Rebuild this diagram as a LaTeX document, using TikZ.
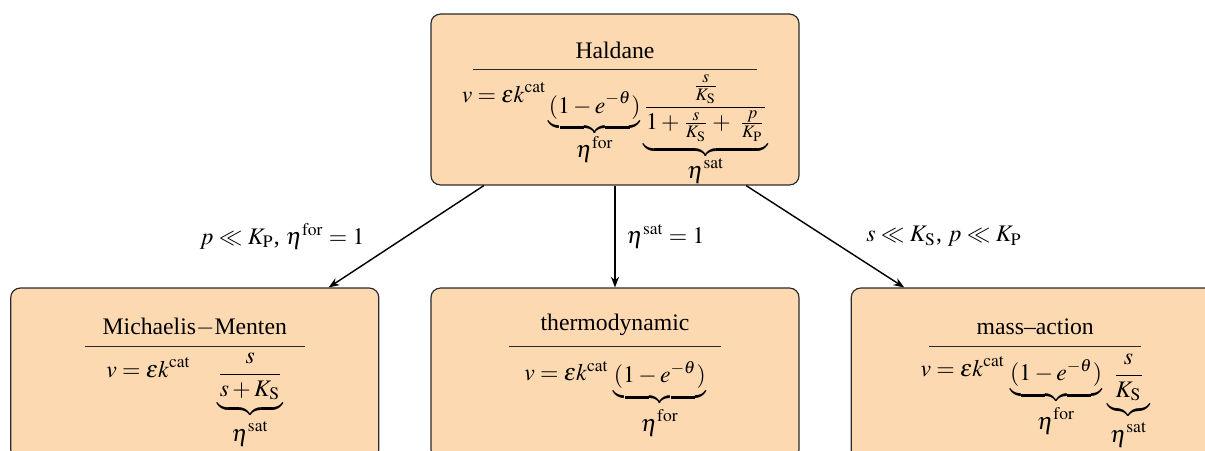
\documentclass[tikz,border=0pt]{standalone}
\usepackage{mathptmx}
\usepackage[no-math]{fontspec}
\setmainfont{Liberation Serif}
\usetikzlibrary{arrows.meta,positioning}
\definecolor{cardfill}{RGB}{253,217,177}
\definecolor{cardline}{HTML}{2B2B2B}
\newcommand{\ratelhs}[1]{\raisebox{#1}{$\displaystyle v=\varepsilon k^{\mathrm{cat}}$}}
\newcommand{\bracelabel}[2][0pt]{\raisebox{#1}[0pt][0pt]{$\displaystyle #2$}}
\newcommand{\bracestack}[2]{\vtop{\offinterlineskip\ialign{\hfil##\hfil\cr
  $\displaystyle\underbrace{#1}$\cr$\displaystyle #2$\cr}}}

\begin{document}
\begin{tikzpicture}[
      x=0.4219pt,y=-0.4219pt,
      card/.style={rounded corners=4pt,draw=cardline,line width=0.5pt,fill=cardfill,
                   minimum width=155.3pt,inner sep=0pt,text width=150pt,align=center,
                   text height=19.4pt,text depth=52.7pt,
                   execute at begin node={\lineskiplimit=-\maxdimen}},
      arr/.style={-{Stealth[length=4.5pt,width=3.4pt]},line width=0.6pt}]
  \useasboundingbox (0,0) rectangle (1205,450);
  % general law on top
  \node[card,text height=18.6pt,text depth=53.5pt] (hal) at (615,99.5) {Haldane\\[-7pt]
    {\color{cardline}\rule{119.8pt}{0.4pt}}\\[6.2pt]
    $\displaystyle\ratelhs{4.5pt}\,\bracestack{(1-e^{-\theta})}{\eta^{\mathrm{for}}}\,
     \bracestack{\frac{\frac{s}{K_\mathrm{S}}}{1+\frac{s}{K_\mathrm{S}}+\;\frac{p}{K_\mathrm{P}}}}{\eta^{\mathrm{sat}}}$};
  % limiting cases
  \node[card,text height=17.7pt,text depth=54.4pt,below=43pt of hal] (ther) {thermodynamic\\[-4.8pt]
    {\color{cardline}\rule{89.4pt}{0.4pt}}\\[3.1pt]
    $\displaystyle\ratelhs{0.8pt}\,\underbrace{(1-e^{-\theta})}_{\bracelabel{\eta^{\mathrm{for}}}}$};
  \node[card,left=21.5pt of ther] (mm) {Michaelis$-$Menten\\[-6.5pt]
    {\color{cardline}\rule{92.8pt}{0.4pt}}\\[1.9pt]
    $\displaystyle\ratelhs{1pt}\quad\underbrace{\frac{s}{s+K_\mathrm{S}}}_{\bracelabel{\eta^{\mathrm{sat}}}}$};
  \node[card,right=21.5pt of ther] (mass) {mass--action\\[-6.5pt]
    {\color{cardline}\rule{89.4pt}{0.4pt}}\\[2.3pt]
    $\displaystyle\ratelhs{2pt}\,\underbrace{(1-e^{-\theta})}_{\bracelabel{\eta^{\mathrm{for}}}}\,
     \underbrace{\frac{s}{K_\mathrm{S}}}_{\bracelabel{\eta^{\mathrm{sat}}}}$};
  \draw[arr] ([xshift=-55.3pt]hal.south) -- node[left=14pt] {$p\ll K_\mathrm{P}$, $\eta^{\mathrm{for}}=1$}
    ([xshift=56.5pt]mm.north);
  \draw[arr] (hal.south) -- node[right=1.3pt] {$\eta^{\mathrm{sat}}=1$} (ther.north);
  \draw[arr] ([xshift=55.3pt]hal.south) -- node[right=13.8pt] {$s\ll K_\mathrm{S}$, $p\ll K_\mathrm{P}$}
    ([xshift=-55.3pt]mass.north);
\end{tikzpicture}
\end{document}
